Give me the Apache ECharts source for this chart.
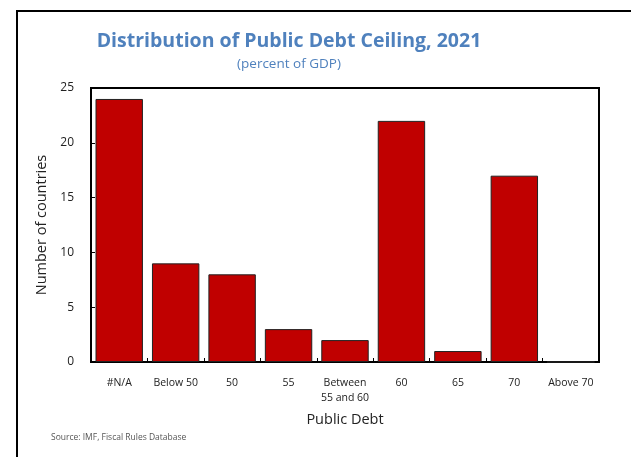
<!DOCTYPE html>
<html>
<head>
<meta charset="utf-8">
<script src="https://cdn.jsdelivr.net/npm/echarts@6/dist/echarts.min.js"></script>
<style>
  html, body { margin: 0; padding: 0; background: #fff; }
  #chart { width: 631px; height: 457px; }
</style>
</head>
<body>
<div id="chart"></div>
<script>
// categories and values
var categories = ['#N/A', 'Below 50', '50', '55', 'Between\n55 and 60', '60', '65', '70', 'Above 70'];
var counts = [24, 9, 8, 3, 2, 22, 1, 17, 0];
var yTicks = [0, 5, 10, 15, 20, 25];

var font = 'Open Sans';
var myChart = echarts.init(document.getElementById('chart'));
myChart.setOption({
    animation: false,
    textStyle: { fontFamily: font },
    title: [
        {
            text: 'Distribution of Public Debt Ceiling, 2021',
            left: 284, top: 26, textAlign: 'center',
            textStyle: { fontFamily: font, fontSize: 19.5, fontWeight: 'bold', color: '#4f81bd' }
        },
        {
            text: '(percent of GDP)',
            left: 284, top: 52, textAlign: 'center',
            textStyle: { fontFamily: font, fontSize: 13.5, fontWeight: 'normal', color: '#4f81bd' }
        }
    ],
    grid: {
        left: 91, right: 32, top: 88, bottom: 95,
        show: true, borderColor: '#000', borderWidth: 2, backgroundColor: 'transparent'
    },
    xAxis: {
        type: 'category',
        data: categories,
        name: 'Public Debt',
        nameLocation: 'middle',
        nameGap: 50,
        nameTextStyle: { fontFamily: font, fontSize: 14.5, color: '#222' },
        axisLine: { lineStyle: { color: '#000', width: 2 } },
        axisTick: { show: true, inside: true, length: 4, lineStyle: { color: '#000' } },
        axisLabel: { fontFamily: font, fontSize: 10.5, color: '#222', margin: 14, lineHeight: 15, interval: 0 }
    },
    yAxis: {
        type: 'value',
        min: 0, max: 25, interval: 5,
        name: 'Number of countries',
        nameLocation: 'middle',
        nameGap: 41,
        nameTextStyle: { fontFamily: font, fontSize: 14.5, color: '#222' },
        splitLine: { show: false },
        axisLine: { show: true, lineStyle: { color: '#000', width: 2 } },
        axisTick: { show: true, inside: true, length: 4, lineStyle: { color: '#000' } },
        axisLabel: {
            fontFamily: font, fontSize: 12, color: '#222', margin: 17,
            formatter: function (v) { return yTicks.indexOf(v) > -1 ? String(v) : ''; }
        }
    },
    series: [{
        type: 'bar',
        data: counts,
        barWidth: '84%',
        itemStyle: { color: '#c00000', borderColor: '#222', borderWidth: 1 }
    }],
    graphic: [
        { type: 'line', shape: { x1: 17, y1: 11, x2: 17, y2: 457 }, style: { stroke: '#000', lineWidth: 2 } },
        { type: 'line', shape: { x1: 16, y1: 11, x2: 631, y2: 11 }, style: { stroke: '#000', lineWidth: 2 } },
        {
            type: 'text', left: 51, top: 433,
            style: { text: 'Source: IMF, Fiscal Rules Database', font: '8.5px "Open Sans"', fill: '#555' }
        }
    ]
});
</script>
</body>
</html>
